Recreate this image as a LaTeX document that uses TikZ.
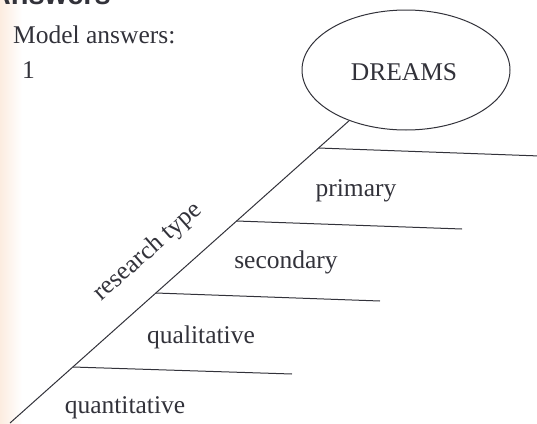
\documentclass[tikz,border=0pt]{standalone}
\usepackage{fontspec}
\setmainfont{Liberation Serif}
\newfontfamily\headfont{Liberation Sans}
\usetikzlibrary{shapes.geometric,calc}
\definecolor{ink}{RGB}{50,50,58}
\definecolor{paper}{RGB}{252,236,224}
\tikzset{
  txt/.style={text=ink, inner sep=0pt, font=\fontsize{25.5}{30}\selectfont},
  bar/.style={draw=ink, line width=1pt},
  spine/.style={draw=ink, line width=1pt},
  head/.style={draw=ink, line width=1pt, ellipse, minimum width=208pt, minimum height=120pt, inner sep=0pt}
}
\begin{document}
\begin{tikzpicture}[x=1pt, y=-1pt]
  \useasboundingbox (0,0) rectangle (537,423);
  \clip (0,0) rectangle (537,423);
  % page tint along the left edge
  \shade[left color=paper, right color=white] (0,0) rectangle (22,423);

  % heading and intro
  \node[txt, anchor=base east, font=\headfont\bfseries\fontsize{29}{33}\selectfont] (heading) at (111,5) {Answers};
  \node[txt, anchor=base west] (intro) at (13,43) {Model answers:};
  \node[txt, anchor=base west] (num) at (22,78) {1};

  % head of the fishbone
  \node[head] (dreams) at (406,70) {};
  \node[txt, anchor=base] (dreamslabel) at (404,80) {DREAMS};

  % spine
  \coordinate (tail) at (10,423);
  \draw[spine] (tail) -- (dreams);

  % bars branching off the spine
  \coordinate (b1) at ($(tail)!{(423-148)/353}!(dreams.center)$);
  \coordinate (b2) at ($(tail)!{(423-221)/353}!(dreams.center)$);
  \coordinate (b3) at ($(tail)!{(423-293)/353}!(dreams.center)$);
  \coordinate (b4) at ($(tail)!{(423-367)/353}!(dreams.center)$);
  \coordinate (e1) at (540,156);
  \coordinate (e2) at (462,229);
  \coordinate (e3) at (380,301);
  \coordinate (e4) at (292,374);
  \draw[bar] (b1) -- (e1);
  \draw[bar] (b2) -- (e2);
  \draw[bar] (b3) -- (e3);
  \draw[bar] (b4) -- (e4);

  % labels
  \node[txt, rotate=41.7] (rtype) at (148,252) {research type};
  \node[txt, anchor=base] (primary) at (356,196) {primary};
  \node[txt, anchor=base] (secondary) at (286,268) {secondary};
  \node[txt, anchor=base] (qualitative) at (201,343) {qualitative};
  \node[txt, anchor=base] (quantitative) at (125,413) {quantitative};
\end{tikzpicture}
\end{document}
